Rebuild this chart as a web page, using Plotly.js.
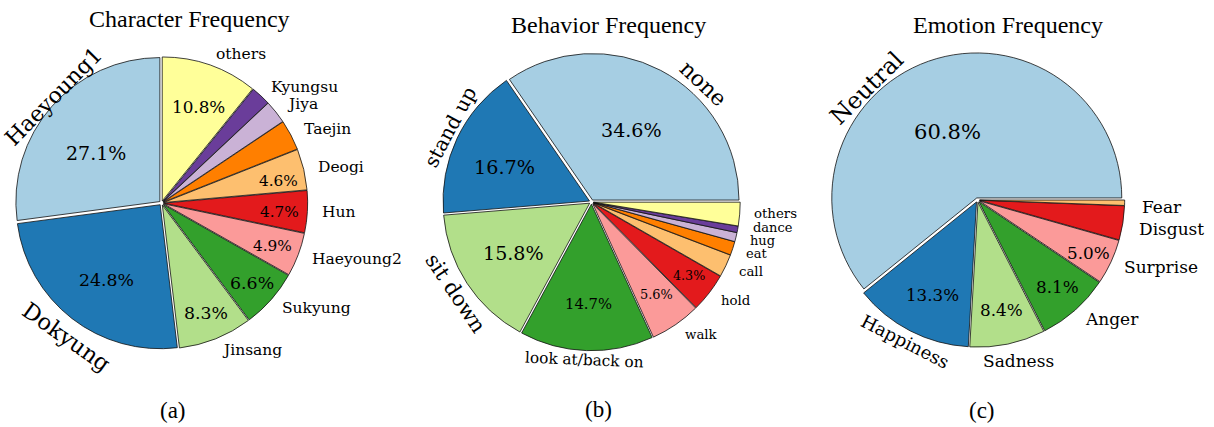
<!DOCTYPE html>
<html><head><meta charset="utf-8">
<script src="https://cdn.plot.ly/plotly-3.0.1.min.js"></script>
<style>html,body{margin:0;padding:0;background:#fff;} #chart{width:1214px;height:427px;}</style>
</head><body><div id="chart"></div>
<script>
const W = 1214, H = 427;

// ---------- data ----------
const charLabels = ['Haeyoung1','Dokyung','Jinsang','Sukyung','Haeyoung2','Hun','Deogi','Taejin','Jiya','Kyungsu','others'];
const charValues = [27.1, 24.8, 8.3, 6.6, 4.9, 4.7, 4.6, 3.4, 2.6, 2.2, 10.8];

const behLabels = ['none','stand up','sit down','look at/back on','walk','hold','call','eat','hug','dance','others'];
const behValues = [34.6, 16.7, 15.8, 14.7, 5.6, 4.3, 2.5, 1.5, 1.0, 0.7, 2.6];

const emoLabels = ['Neutral','Happiness','Sadness','Anger','Surprise','Disgust','Fear'];
const emoValues = [60.8, 13.3, 8.4, 8.1, 5.0, 3.8, 0.6];

const titles = ['Character Frequency','Behavior Frequency','Emotion Frequency'];
const captions = ['(a)','(b)','(c)'];

// ---------- styles ----------
const paired = ['#a6cee3','#1f78b4','#b2df8a','#33a02c','#fb9a99','#e31a1c','#fdbf6f','#ff7f00','#cab2d6','#6a3d9a','#ffff99'];
const PULL = 0.015;
const PCT_MIN = 4.0;
const LABEL_FONT = 'DejaVu Serif, serif';
const TITLE_FONT = 'Liberation Serif, Times New Roman, serif';

const panels = [
  { labels: charLabels, values: charValues, cx: 161.5, cy: 203, r: 144, start: 90,
    titleX: 189, titleY: 19, capX: 173, capY: 410,
    labelSize: [22, 22.5, 15.5, 15.5, 15.5, 15.5, 15.5, 15.5, 15.5, 15.5, 15.5],
    labelMode: ['tan','tan','h','h','h','h','h','h','h','h','h'],
    labelDist: [1.053, 1.138, 1.1, 1.1, 1.1, 1.1, 1.1, 1.1, 1.1, 1.1, 1.1],
    labelShift: [-3.3, 2.5, 0, 0, 0, 0, 0, 0, 0, 0, 0],
    labelAnchor: [null,null,null,null,null,null,null,null,null,null,null],
    pctSize: [19, 17.3, 17.3, 17.4, 15.3, 15.3, 15.3, 15, 15, 15, 16.8],
    pctDist: [0.571, 0.656, 0.822, 0.842, 0.828, 0.82, 0.83, 0.8, 0.8, 0.8, 0.712],
    pctShift: [4.0, 2.4, 0.3, -0.1, -0.4, -1.1, -2.7, 0, 0, 0, -1.6] },
  { labels: behLabels, values: behValues, cx: 591.5, cy: 202, r: 146.5, start: 0,
    titleX: 608, titleY: 25, capX: 598, capY: 409,
    labelSize: [22, 20, 21, 15.3, 13.3, 13.3, 13.3, 13, 13, 13, 13.3],
    labelMode: ['tan','tan','tan','tan','h','h','h','h','h','h','h'],
    labelDist: [1.113, 1.094, 1.121, 1.079, 1.1, 1.1, 1.1, 1.1, 1.1, 1.1, 1.1],
    labelShift: [-15.6, -2.6, 0.7, -0.5, 0, 0, 0, -0.3, -0.3, 1.4, 0.7],
    labelAnchor: [null,null,null,null,null,null,null,null,null,null,null],
    pctSize: [19.1, 19.2, 19.1, 14.8, 12.9, 12.7, 12, 12, 12, 12, 12],
    pctDist: [0.563, 0.64, 0.638, 0.692, 0.769, 0.834, 0.8, 0.8, 0.8, 0.8, 0.8],
    pctShift: [-1.5, 3.9, 0.2, 0.5, 0.4, 0.4, 0, 0, 0, 0, 0] },
  { labels: emoLabels, values: emoValues, cx: 977.5, cy: 200, r: 145, start: 0,
    titleX: 1007.5, titleY: 25, capX: 982, capY: 410,
    labelSize: [23.5, 18, 17, 17, 17, 17, 17],
    labelMode: ['tan','tan','h','h','h','h','h'],
    labelDist: [1.085, 1.098, 1.143, 1.1, 1.1, 1.12, 1.125],
    labelShift: [25.3, 0.1, 2.3, 0, 0, -1.3, -1.5],
    labelAnchor: [null, null, 'center', null, null, null, null],
    pctSize: [21.1, 16.7, 16.8, 16.8, 16.8, 16, 16],
    pctDist: [0.515, 0.724, 0.777, 0.818, 0.848, 0.8, 0.8],
    pctShift: [4.4, 1.9, 0.5, 1.0, -0.9, 0, 0] }
];

// ---------- build ----------
const px2x = px => px / W;
const py2y = py => 1 - py / H;
const rad = d => d * Math.PI / 180;
function normAngle(a) { while (a > 180) a -= 360; while (a <= -180) a += 360; return a; }

const traces = [];
const annotations = [];

panels.forEach((p, k) => {
  const total = p.values.reduce((a, b) => a + b, 0);
  const s = 2 * p.r * (1 + PULL);
  const firstDeg = p.values[0] / total * 360;
  traces.push({
    type: 'pie',
    labels: p.labels,
    values: p.values,
    sort: false,
    direction: 'counterclockwise',
    rotation: (90 - p.start) - firstDeg,
    pull: p.values.map(() => PULL),
    marker: { colors: paired.slice(0, p.values.length), line: { color: '#111', width: 0.8 } },
    textinfo: 'none',
    hoverinfo: 'label+percent',
    showlegend: false,
    domain: {
      x: [px2x(p.cx - s / 2), px2x(p.cx + s / 2)],
      y: [py2y(p.cy + s / 2), py2y(p.cy - s / 2)]
    }
  });

  let cum = 0;
  p.values.forEach((v, i) => {
    const mid = p.start + (cum + v / 2) / total * 360;
    cum += v;

    // outer label
    const th = mid + p.labelShift[i];
    const d = p.labelDist[i] * p.r;
    const lx = p.cx + d * Math.cos(rad(th));
    const ly = p.cy - d * Math.sin(rad(th));
    const ann = {
      x: px2x(lx), y: py2y(ly), xref: 'paper', yref: 'paper',
      text: p.labels[i], showarrow: false,
      font: { family: LABEL_FONT, size: p.labelSize[i], color: '#000' },
      yanchor: 'middle'
    };
    if (p.labelMode[i] === 'tan') {
      const t = ((th % 360) + 360) % 360;
      const ccw = Math.sin(rad(t)) >= 0 ? t - 90 : t - 270;
      ann.textangle = normAngle(-ccw);
      ann.xanchor = 'center';
    } else {
      ann.xanchor = p.labelAnchor[i] || (Math.cos(rad(th)) >= 0 ? 'left' : 'right');
    }
    annotations.push(ann);

    // percentage
    if (v / total * 100 >= PCT_MIN) {
      const tp = mid + p.pctShift[i];
      const dp = p.pctDist[i] * p.r;
      annotations.push({
        x: px2x(p.cx + dp * Math.cos(rad(tp))), y: py2y(p.cy - dp * Math.sin(rad(tp))),
        xref: 'paper', yref: 'paper', showarrow: false,
        text: (v / total * 100).toFixed(1) + '%',
        font: { family: LABEL_FONT, size: p.pctSize[i], color: '#000' },
        xanchor: 'center', yanchor: 'middle'
      });
    }
  });

  annotations.push({
    x: px2x(p.titleX), y: py2y(p.titleY), xref: 'paper', yref: 'paper', showarrow: false,
    text: titles[k], font: { family: TITLE_FONT, size: 24, color: '#000' },
    xanchor: 'center', yanchor: 'middle'
  });
  annotations.push({
    x: px2x(p.capX), y: py2y(p.capY), xref: 'paper', yref: 'paper', showarrow: false,
    text: captions[k], font: { family: TITLE_FONT, size: 23, color: '#000' },
    xanchor: 'center', yanchor: 'middle'
  });
});

const layout = {
  width: W, height: H,
  margin: { l: 0, r: 0, t: 0, b: 0 },
  paper_bgcolor: '#fff', plot_bgcolor: '#fff',
  showlegend: false,
  annotations: annotations
};

Plotly.newPlot('chart', traces, layout, { displayModeBar: false, staticPlot: true });
</script>
</body></html>
